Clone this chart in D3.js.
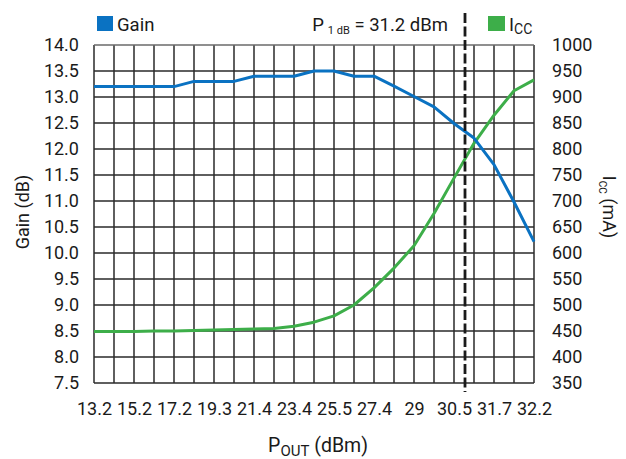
<!DOCTYPE html>
<html>
<head>
<meta charset="utf-8">
<script src="https://cdn.jsdelivr.net/npm/d3@7"></script>
<style>
  html, body { margin: 0; padding: 0; background: #fff; }
  svg text { font-family: Roboto, 'Liberation Sans', sans-serif; fill: #1a1a1a; }
</style>
</head>
<body>
<svg id="chart" width="626" height="459"></svg>
<script>
// ---- Data ----
const xLabels = ["13.2","15.2","17.2","19.3","21.4","23.4","25.5","27.4","29","30.5","31.7","32.2"];
const pointIndex = d3.range(23);
const gainDb = [13.2,13.2,13.2,13.2,13.2,13.3,13.3,13.3,13.4,13.4,13.4,13.5,13.5,13.4,13.4,13.21,13.01,12.81,12.49,12.21,11.7,10.98,10.22];
const iccMa = [449,449,449,450,450,451,452,453,454,455,459,467,479,500,533,571,614,676,744,811,865,912,933];
const gainTicks = [7.5,8.0,8.5,9.0,9.5,10.0,10.5,11.0,11.5,12.0,12.5,13.0,13.5,14.0];
const iccTicks = [350,400,450,500,550,600,650,700,750,800,850,900,950,1000];
const p1dBIndex = 18.55;   // position of the P1dB marker along the point axis
const p1dBLabel = "31.2";

// ---- Layout ----
const svg = d3.select("#chart");
const L = 94, R = 534, T = 45, B = 383;
const x = d3.scaleLinear().domain([0, 22]).range([L, R]);
const yG = d3.scaleLinear().domain([7.5, 14]).range([B, T]);
const yI = d3.scaleLinear().domain([350, 1000]).range([B, T]);

const BLUE = "#0a72c2", GREEN = "#3dae49", GRID = "#2a2a2a";
const FONT = "Roboto, 'Liberation Sans', sans-serif";

// grid
const grid = svg.append("g");
grid.selectAll("line.v").data(pointIndex).join("line")
  .attr("x1", d => x(d)).attr("x2", d => x(d)).attr("y1", T).attr("y2", B)
  .attr("stroke", GRID).attr("stroke-width", 1.5);
grid.selectAll("line.h").data(gainTicks).join("line")
  .attr("x1", L).attr("x2", R).attr("y1", d => yG(d)).attr("y2", d => yG(d))
  .attr("stroke", d => d === 14 ? "#6a6a6a" : GRID).attr("stroke-width", 1.5);

// axes
const axL = svg.append("g").attr("transform", `translate(${L},0)`)
  .call(d3.axisLeft(yG).tickValues(gainTicks).tickFormat(d3.format(".1f")).tickSize(0).tickPadding(15));
const axR = svg.append("g").attr("transform", `translate(${R},0)`)
  .call(d3.axisRight(yI).tickValues(iccTicks).tickFormat(d3.format("d")).tickSize(0).tickPadding(18));
const axB = svg.append("g").attr("transform", `translate(0,${B})`)
  .call(d3.axisBottom(d3.scalePoint().domain(xLabels).range([x(0), x(22)])).tickSize(0).tickPadding(19));
[axL, axR, axB].forEach(a => {
  a.select(".domain").remove();
  a.selectAll("text").attr("font-size", 18).attr("fill", "#1a1a1a").style("font-family", FONT);
});

// lines
const lineG = d3.line().x((d, i) => x(i)).y(d => yG(d));
const lineI = d3.line().x((d, i) => x(i)).y(d => yI(d));
svg.append("path").datum(iccMa).attr("d", lineI)
  .attr("fill", "none").attr("stroke", GREEN).attr("stroke-width", 3).attr("stroke-linejoin", "round");
svg.append("path").datum(gainDb).attr("d", lineG)
  .attr("fill", "none").attr("stroke", BLUE).attr("stroke-width", 3).attr("stroke-linejoin", "round");

// P1dB marker
svg.append("line")
  .attr("x1", x(p1dBIndex)).attr("x2", x(p1dBIndex)).attr("y1", 13).attr("y2", 392)
  .attr("stroke", "#1a1a1a").attr("stroke-width", 2.8).attr("stroke-dasharray", "10,3.5");

// legend
svg.append("rect").attr("x", 97).attr("y", 16).attr("width", 16).attr("height", 15).attr("fill", BLUE);
svg.append("text").attr("x", 117).attr("y", 31).attr("font-size", 18.5).text("Gain");
const pt = svg.append("text").attr("x", 448).attr("y", 31).attr("font-size", 18.5).attr("text-anchor", "end");
pt.append("tspan").text("P");
pt.append("tspan").attr("font-size", 11).attr("dy", 3).attr("dx", 4).text("1 dB");
pt.append("tspan").attr("dy", -3).text(" = " + p1dBLabel + " dBm");
svg.append("rect").attr("x", 488).attr("y", 16).attr("width", 17).attr("height", 15).attr("fill", GREEN);
const il = svg.append("text").attr("x", 509).attr("y", 31).attr("font-size", 18.5);
il.append("tspan").text("I");
il.append("tspan").attr("font-size", 14).attr("dy", 3).text("CC");

// axis titles
svg.append("text").attr("transform", "translate(29,212) rotate(-90)")
  .attr("text-anchor", "middle").attr("font-size", 18).text("Gain (dB)");
const rt = svg.append("text").attr("transform", "translate(603,207) rotate(90)")
  .attr("text-anchor", "middle").attr("font-size", 18);
rt.append("tspan").text("I");
rt.append("tspan").attr("font-size", 10).attr("dy", 4).text("CC");
rt.append("tspan").attr("dy", -4).text(" (mA)");
const bt = svg.append("text").attr("x", 318).attr("y", 452).attr("text-anchor", "middle").attr("font-size", 19.5);
bt.append("tspan").text("P");
bt.append("tspan").attr("font-size", 15).attr("dy", 4).text("OUT");
bt.append("tspan").attr("dy", -4).text(" (dBm)");
</script>
</body>
</html>
